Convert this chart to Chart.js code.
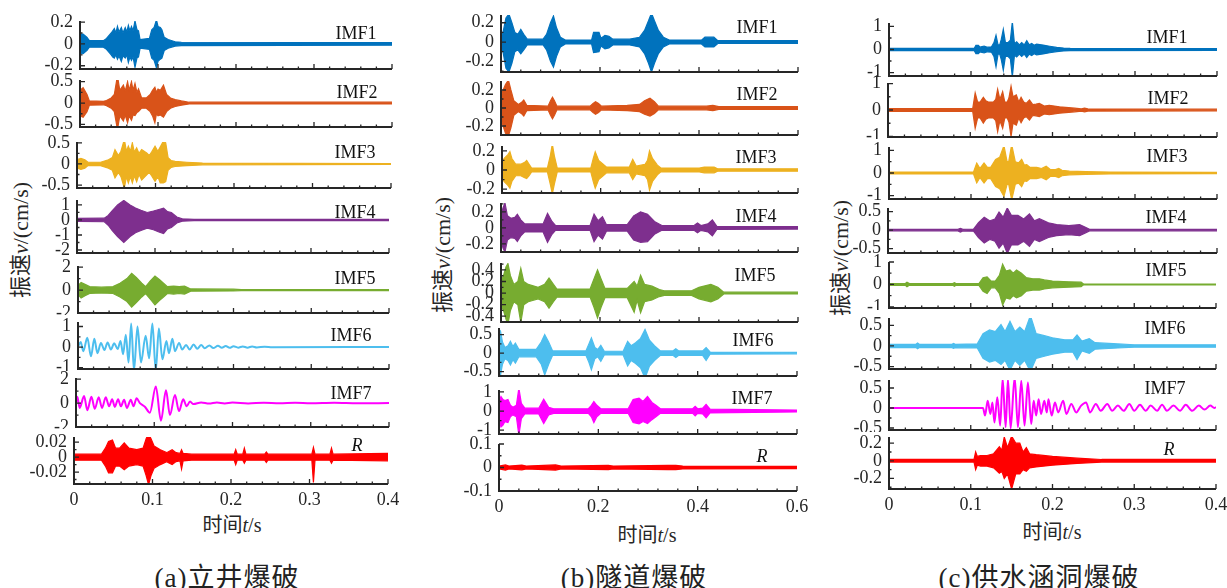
<!DOCTYPE html>
<html>
<head>
<meta charset="utf-8">
<script src="https://cdn.jsdelivr.net/npm/chart.js@4/dist/chart.umd.min.js"></script>
<style>
  body { margin: 0; width: 1227px; height: 588px; position: relative; overflow: hidden; background: #fff;
         font-family: "Liberation Serif", "Noto Sans CJK SC", serif; color: #262626; }
  canvas { position: absolute; }
  .lbl { position: absolute; transform: translate(-50%, -50%); white-space: nowrap; }
  .imf { font-size: 18px; color: #111; }
  .xt { font-size: 20px; }
  .yt { font-size: 22px; transform: translate(-50%, -50%) rotate(-90deg); }
  .cap { font-size: 27px; letter-spacing: 1px; color: #222; }
</style>
</head>
<body>
<div class="lbl yt" style="left:18px;top:240px">振速<i>v</i>/(cm/s)</div>
<div class="lbl yt" style="left:440px;top:255px">振速<i>v</i>/(cm/s)</div>
<div class="lbl yt" style="left:838px;top:258px">振速<i>v</i>/(cm/s)</div>
<div class="lbl xt" style="left:232px;top:523px">时间<i>t</i>/s</div>
<div class="lbl xt" style="left:647px;top:533px">时间<i>t</i>/s</div>
<div class="lbl xt" style="left:1052px;top:530px">时间<i>t</i>/s</div>
<div class="lbl cap" style="left:227px;top:575px">(a)立井爆破</div>
<div class="lbl cap" style="left:634px;top:575px">(b)隧道爆破</div>
<div class="lbl cap" style="left:1039px;top:575px">(c)供水涵洞爆破</div>
<script>
// ---- (a) 立井爆破 : envelopes (time s, upper, lower) ----
const tA1 = [0, 0.004, 0.009, 0.012, 0.03, 0.034, 0.04, 0.042, 0.044, 0.046, 0.048, 0.05, 0.053, 0.055, 0.058, 0.06, 0.062, 0.064, 0.066, 0.068, 0.0705, 0.073, 0.075, 0.077, 0.089, 0.092, 0.095, 0.098, 0.1, 0.103, 0.105, 0.108, 0.113, 0.122, 0.13, 0.4];
const hiA1 = [0.09, 0.09, 0.06, 0.03, 0.03, 0.05, 0.1, 0.12, 0.14, 0.1, 0.16, 0.11, 0.15, 0.1, 0.15, 0.11, 0.17, 0.12, 0.16, 0.12, 0.21, 0.13, 0.12, 0.04, 0.05, 0.13, 0.15, 0.22, 0.16, 0.15, 0.13, 0.06, 0.04, 0.02, 0.015, 0.012];
const loA1 = [-0.09, -0.09, -0.06, -0.03, -0.03, -0.05, -0.1, -0.12, -0.13, -0.1, -0.14, -0.11, -0.16, -0.11, -0.13, -0.1, -0.17, -0.12, -0.15, -0.12, -0.215, -0.13, -0.12, -0.04, -0.05, -0.13, -0.15, -0.22, -0.16, -0.14, -0.13, -0.06, -0.04, -0.02, -0.015, -0.012];

const tA2 = [0, 0.004, 0.009, 0.012, 0.03, 0.034, 0.04, 0.044, 0.048, 0.051, 0.0556, 0.058, 0.061, 0.063, 0.066, 0.068, 0.0705, 0.073, 0.075, 0.079, 0.085, 0.09, 0.093, 0.096, 0.098, 0.1, 0.103, 0.107, 0.111, 0.116, 0.122, 0.13, 0.14, 0.4];
const hiA2 = [0.3, 0.36, 0.2, 0.05, 0.04, 0.06, 0.12, 0.2, 0.64, 0.3, 0.42, 0.28, 0.5, 0.3, 0.5, 0.3, 0.46, 0.25, 0.33, 0.12, 0.12, 0.2, 0.3, 0.37, 0.25, 0.33, 0.3, 0.42, 0.2, 0.12, 0.08, 0.05, 0.02, 0.02];
const loA2 = [-0.3, -0.33, -0.2, -0.05, -0.04, -0.06, -0.12, -0.2, -0.62, -0.3, -0.42, -0.28, -0.46, -0.3, -0.4, -0.28, -0.29, -0.22, -0.2, -0.12, -0.12, -0.2, -0.3, -0.46, -0.25, -0.3, -0.28, -0.33, -0.2, -0.12, -0.08, -0.05, -0.02, -0.02];

const tA3 = [0, 0.005, 0.01, 0.014, 0.03, 0.04, 0.045, 0.0484, 0.0527, 0.056, 0.0603, 0.063, 0.0654, 0.068, 0.0705, 0.073, 0.076, 0.079, 0.0824, 0.0888, 0.092, 0.095, 0.0994, 0.103, 0.106, 0.11, 0.113, 0.116, 0.12, 0.125, 0.14, 0.16, 0.4];
const hiA3 = [0.1, 0.13, 0.1, 0.04, 0.04, 0.1, 0.15, 0.34, 0.2, 0.3, 0.58, 0.3, 0.42, 0.3, 0.5, 0.28, 0.38, 0.25, 0.34, 0.26, 0.2, 0.28, 0.42, 0.3, 0.4, 0.54, 0.5, 0.15, 0.08, 0.06, 0.04, 0.02, 0.01];
const loA3 = [-0.1, -0.13, -0.1, -0.04, -0.04, -0.1, -0.15, -0.33, -0.2, -0.3, -0.57, -0.3, -0.45, -0.3, -0.45, -0.28, -0.42, -0.25, -0.38, -0.26, -0.2, -0.28, -0.41, -0.3, -0.45, -0.45, -0.42, -0.15, -0.08, -0.06, -0.04, -0.02, -0.01];

const tA4 = [0, 0.035, 0.04, 0.045, 0.052, 0.06, 0.068, 0.075, 0.082, 0.09, 0.098, 0.105, 0.111, 0.116, 0.121, 0.128, 0.135, 0.15, 0.4];
const hiA4 = [0.1, 0.12, 0.3, 0.6, 1.0, 1.3, 1.0, 0.8, 0.65, 0.5, 0.6, 0.7, 0.78, 0.55, 0.5, 0.2, 0.08, 0.04, 0.04];
const loA4 = [-0.1, -0.12, -0.35, -0.7, -1.1, -1.5, -1.1, -0.85, -0.7, -0.55, -0.65, -0.8, -0.9, -0.6, -0.5, -0.2, -0.08, -0.04, -0.04];

const tA5 = [0, 0.004, 0.009, 0.015, 0.03, 0.045, 0.054, 0.063, 0.069, 0.075, 0.082, 0.087, 0.093, 0.099, 0.105, 0.11, 0.115, 0.123, 0.13, 0.137, 0.145, 0.2, 0.21, 0.4];
const hiA5 = [0.4, 0.66, 0.5, 0.3, 0.25, 0.3, 0.6, 1.0, 1.46, 1.1, 0.6, 0.3, 0.8, 1.23, 0.9, 0.6, 0.3, 0.35, 0.3, 0.35, 0.1, 0.08, 0.04, 0.04];
const loA5 = [-0.4, -0.69, -0.5, -0.3, -0.25, -0.3, -0.6, -1.0, -1.49, -1.1, -0.6, -0.3, -0.8, -1.29, -0.9, -0.6, -0.3, -0.35, -0.3, -0.35, -0.1, -0.08, -0.04, -0.04];

// IMF6, IMF7: visible waves (peaks and troughs)
const tA6 = [0, 0.0034, 0.0068, 0.012, 0.0167, 0.021, 0.025, 0.0295, 0.034, 0.038, 0.0423, 0.0466, 0.051, 0.0547, 0.058, 0.0615, 0.065, 0.0684, 0.072, 0.0765, 0.081, 0.087, 0.0915, 0.0957, 0.1, 0.104, 0.1086, 0.1137, 0.117, 0.1214, 0.1248, 0.13, 0.134, 0.139, 0.1436, 0.1487, 0.1534, 0.1585, 0.163, 0.169, 0.174, 0.18, 0.185, 0.19, 0.195, 0.2, 0.206, 0.212, 0.218, 0.224, 0.23, 0.24, 0.25, 0.4];
const vA6 = [0, 0.25, -0.2, 0.45, -0.45, 0.4, -0.3, 0.2, -0.15, 0.22, -0.12, 0.18, -0.1, 0.3, -0.35, 0.6, -0.75, 1.15, -1.15, 1.0, -0.75, 0.55, -0.55, 1.15, -1.15, 0.9, -0.6, 0.3, -0.3, 0.4, -0.2, 0.2, -0.12, 0.1, -0.12, 0.12, -0.08, 0.1, -0.06, 0.08, -0.05, 0.06, -0.04, 0.05, -0.04, 0.04, -0.03, 0.03, -0.03, 0.03, -0.02, 0.02, -0.01, 0];

const tA7 = [0, 0.0017, 0.0047, 0.0103, 0.0145, 0.0197, 0.024, 0.029, 0.0333, 0.038, 0.0423, 0.0462, 0.0496, 0.0538, 0.0573, 0.0615, 0.065, 0.07, 0.0735, 0.0774, 0.0816, 0.088, 0.0944, 0.102, 0.1086, 0.115, 0.12, 0.1265, 0.1316, 0.137, 0.1414, 0.1457, 0.15, 0.16, 0.17, 0.18, 0.19, 0.2, 0.22, 0.24, 0.26, 0.28, 0.3, 0.33, 0.36, 0.4];
const vA7 = [0, 0.53, -0.4, 0.59, -0.59, 0.53, -0.48, 0.48, -0.4, 0.48, -0.27, 0.32, -0.32, 0.32, -0.27, 0.27, -0.4, 0.27, -0.27, 0.4, 0, -0.3, -0.8, 1.39, -1.47, 1.07, -1.0, 0.67, -0.67, 0.32, -0.27, 0.13, -0.08, 0.06, -0.04, 0.05, -0.03, 0.04, -0.03, 0.03, -0.02, 0.03, -0.02, 0.02, -0.02, 0];

const tAR = [0, 0.035, 0.04, 0.044, 0.049, 0.053, 0.058, 0.064, 0.07, 0.08, 0.088, 0.092, 0.095, 0.098, 0.102, 0.11, 0.118, 0.125, 0.13, 0.135, 0.137, 0.139, 0.15, 0.204, 0.206, 0.208, 0.215, 0.217, 0.219, 0.243, 0.245, 0.247, 0.303, 0.305, 0.307, 0.326, 0.328, 0.33, 0.4];
const hiAR = [0.004, 0.004, 0.012, 0.021, 0.023, 0.012, 0.012, 0.019, 0.012, 0.01, 0.012, 0.025, 0.031, 0.025, 0.015, 0.01, 0.006, 0.01, 0.006, 0.005, 0.01, 0.005, 0.004, 0.004, 0.01, 0.004, 0.004, 0.012, 0.004, 0.004, 0.007, 0.004, 0.004, 0.013, 0.004, 0.004, 0.012, 0.004, 0.005];
const loAR = [-0.004, -0.004, -0.012, -0.021, -0.021, -0.012, -0.012, -0.017, -0.012, -0.01, -0.012, -0.025, -0.037, -0.025, -0.015, -0.01, -0.006, -0.01, -0.006, -0.005, -0.016, -0.005, -0.004, -0.004, -0.01, -0.004, -0.004, -0.008, -0.004, -0.004, -0.007, -0.004, -0.004, -0.034, -0.004, -0.004, -0.008, -0.004, -0.005];

// ---- (b) 隧道爆破 ----
const tB1 = [0, 0.004, 0.01, 0.016, 0.022, 0.028, 0.034, 0.04, 0.046, 0.053, 0.085, 0.092, 0.1, 0.106, 0.112, 0.12, 0.13, 0.183, 0.187, 0.198, 0.202, 0.21, 0.218, 0.226, 0.26, 0.28, 0.29, 0.298, 0.304, 0.31, 0.318, 0.328, 0.34, 0.405, 0.412, 0.43, 0.438, 0.6];
const hiB1 = [0.05, 0.1, 0.25, 0.29, 0.2, 0.1, 0.08, 0.13, 0.08, 0.03, 0.03, 0.08, 0.2, 0.27, 0.15, 0.05, 0.02, 0.02, 0.1, 0.1, 0.04, 0.07, 0.06, 0.03, 0.03, 0.05, 0.12, 0.22, 0.3, 0.22, 0.12, 0.05, 0.02, 0.02, 0.05, 0.05, 0.015, 0.015];
const loB1 = [-0.05, -0.1, -0.27, -0.31, -0.22, -0.1, -0.08, -0.12, -0.08, -0.03, -0.03, -0.08, -0.2, -0.26, -0.15, -0.05, -0.02, -0.02, -0.11, -0.1, -0.04, -0.07, -0.06, -0.03, -0.03, -0.05, -0.12, -0.22, -0.31, -0.22, -0.12, -0.05, -0.02, -0.02, -0.05, -0.05, -0.015, -0.015];

const tB2 = [0, 0.003, 0.009, 0.015, 0.02, 0.026, 0.035, 0.041, 0.046, 0.052, 0.095, 0.1, 0.104, 0.108, 0.113, 0.18, 0.186, 0.191, 0.197, 0.203, 0.255, 0.28, 0.29, 0.301, 0.31, 0.318, 0.415, 0.428, 0.44, 0.6];
const hiB2 = [0.1, 0.18, 0.26, 0.31, 0.2, 0.08, 0.04, 0.06, 0.09, 0.03, 0.02, 0.08, 0.12, 0.08, 0.02, 0.02, 0.05, 0.07, 0.05, 0.02, 0.03, 0.04, 0.08, 0.11, 0.07, 0.02, 0.02, 0.03, 0.015, 0.015];
const loB2 = [-0.1, -0.18, -0.28, -0.31, -0.22, -0.08, -0.04, -0.06, -0.09, -0.03, -0.02, -0.08, -0.12, -0.08, -0.02, -0.02, -0.05, -0.07, -0.05, -0.02, -0.03, -0.04, -0.07, -0.09, -0.06, -0.02, -0.02, -0.03, -0.015, -0.015];

const tB3 = [0, 0.004, 0.012, 0.016, 0.02, 0.028, 0.038, 0.046, 0.05, 0.055, 0.06, 0.092, 0.098, 0.102, 0.106, 0.112, 0.18, 0.185, 0.189, 0.196, 0.205, 0.212, 0.258, 0.265, 0.272, 0.29, 0.295, 0.299, 0.305, 0.315, 0.322, 0.4, 0.41, 0.43, 0.437, 0.6];
const hiB3 = [0.05, 0.12, 0.16, 0.19, 0.12, 0.06, 0.06, 0.08, 0.1, 0.06, 0.02, 0.02, 0.15, 0.27, 0.15, 0.02, 0.02, 0.12, 0.19, 0.1, 0.06, 0.03, 0.03, 0.11, 0.04, 0.06, 0.1, 0.2, 0.12, 0.05, 0.02, 0.02, 0.03, 0.03, 0.012, 0.012];
const loB3 = [-0.05, -0.12, -0.16, -0.19, -0.12, -0.06, -0.06, -0.08, -0.09, -0.06, -0.02, -0.02, -0.15, -0.25, -0.15, -0.02, -0.02, -0.12, -0.19, -0.1, -0.06, -0.03, -0.03, -0.1, -0.04, -0.06, -0.1, -0.21, -0.12, -0.05, -0.02, -0.02, -0.03, -0.03, -0.012, -0.012];

const tB4 = [0, 0.004, 0.008, 0.013, 0.02, 0.028, 0.033, 0.04, 0.048, 0.085, 0.094, 0.103, 0.11, 0.18, 0.188, 0.196, 0.205, 0.213, 0.255, 0.268, 0.282, 0.296, 0.31, 0.325, 0.39, 0.397, 0.404, 0.418, 0.427, 0.436, 0.6];
const hiB4 = [0.15, 0.25, 0.31, 0.15, 0.12, 0.13, 0.17, 0.1, 0.05, 0.05, 0.18, 0.08, 0.03, 0.03, 0.17, 0.09, 0.14, 0.04, 0.04, 0.15, 0.2, 0.17, 0.08, 0.03, 0.03, 0.06, 0.03, 0.05, 0.1, 0.02, 0.015];
const loB4 = [-0.15, -0.25, -0.3, -0.15, -0.12, -0.13, -0.17, -0.1, -0.05, -0.05, -0.18, -0.08, -0.03, -0.03, -0.17, -0.09, -0.14, -0.04, -0.04, -0.15, -0.18, -0.17, -0.08, -0.03, -0.03, -0.06, -0.03, -0.05, -0.1, -0.02, -0.015];

const tB5 = [0, 0.005, 0.01, 0.014, 0.019, 0.026, 0.034, 0.04, 0.046, 0.055, 0.075, 0.088, 0.097, 0.106, 0.113, 0.18, 0.188, 0.195, 0.202, 0.21, 0.255, 0.269, 0.275, 0.282, 0.29, 0.305, 0.32, 0.33, 0.385, 0.4, 0.424, 0.438, 0.45, 0.6];
const hiB5 = [0.2, 0.3, 0.45, 0.51, 0.3, 0.15, 0.2, 0.43, 0.2, 0.15, 0.1, 0.15, 0.26, 0.15, 0.07, 0.07, 0.25, 0.4, 0.25, 0.08, 0.08, 0.2, 0.12, 0.31, 0.15, 0.12, 0.06, 0.04, 0.04, 0.1, 0.15, 0.1, 0.015, 0.015];
const loB5 = [-0.2, -0.3, -0.45, -0.54, -0.3, -0.15, -0.2, -0.51, -0.2, -0.15, -0.1, -0.15, -0.26, -0.15, -0.07, -0.07, -0.25, -0.43, -0.25, -0.08, -0.08, -0.33, -0.12, -0.34, -0.15, -0.12, -0.06, -0.04, -0.04, -0.1, -0.15, -0.1, -0.015, -0.015];

const tB6 = [0, 0.003, 0.007, 0.012, 0.018, 0.023, 0.028, 0.033, 0.04, 0.075, 0.085, 0.092, 0.1, 0.108, 0.175, 0.181, 0.186, 0.193, 0.199, 0.205, 0.212, 0.25, 0.259, 0.266, 0.275, 0.285, 0.294, 0.303, 0.313, 0.325, 0.35, 0.356, 0.362, 0.41, 0.417, 0.425, 0.6];
const hiB6 = [0.64, 0.6, 0.3, 0.15, 0.2, 0.32, 0.18, 0.27, 0.1, 0.1, 0.3, 0.5, 0.3, 0.06, 0.06, 0.25, 0.41, 0.15, 0.1, 0.21, 0.05, 0.05, 0.32, 0.2, 0.28, 0.4, 0.64, 0.35, 0.2, 0.06, 0.06, 0.12, 0.06, 0.06, 0.15, 0.03, 0.02];
const loB6 = [-0.68, -0.6, -0.3, -0.15, -0.2, -0.32, -0.18, -0.27, -0.1, -0.1, -0.3, -0.59, -0.3, -0.06, -0.06, -0.25, -0.45, -0.15, -0.1, -0.22, -0.05, -0.05, -0.35, -0.2, -0.28, -0.4, -0.68, -0.35, -0.2, -0.06, -0.06, -0.12, -0.06, -0.06, -0.2, -0.03, -0.02];

const tB7 = [0, 0.004, 0.008, 0.012, 0.018, 0.023, 0.028, 0.035, 0.04, 0.045, 0.052, 0.08, 0.09, 0.1, 0.11, 0.18, 0.186, 0.191, 0.197, 0.205, 0.26, 0.27, 0.282, 0.29, 0.299, 0.308, 0.316, 0.325, 0.39, 0.395, 0.4, 0.41, 0.417, 0.425, 0.6];
const hiB7 = [0.5, 0.76, 0.6, 0.55, 0.6, 0.3, 0.2, 0.3, 1.2, 0.4, 0.15, 0.15, 0.62, 0.2, 0.12, 0.12, 0.3, 0.5, 0.3, 0.12, 0.12, 0.6, 0.67, 0.5, 0.76, 0.45, 0.3, 0.12, 0.12, 0.25, 0.12, 0.15, 0.35, 0.1, 0.05];
const loB7 = [-0.5, -0.83, -0.74, -0.55, -0.6, -0.3, -0.2, -0.3, -1.27, -0.4, -0.15, -0.15, -0.65, -0.2, -0.12, -0.12, -0.3, -0.6, -0.3, -0.12, -0.12, -0.6, -0.67, -0.55, -0.65, -0.45, -0.3, -0.12, -0.12, -0.25, -0.12, -0.15, -0.35, -0.1, -0.05];

const tBR = [0, 0.013, 0.02, 0.046, 0.055, 0.114, 0.125, 0.22, 0.23, 0.34, 0.356, 0.37, 0.6];
const hiBR = [0.006, 0.011, 0.006, 0.01, 0.006, 0.011, 0.006, 0.009, 0.006, 0.009, 0.009, 0.006, 0.005];
const loBR = [-0.006, -0.011, -0.006, -0.01, -0.006, -0.011, -0.006, -0.009, -0.006, -0.009, -0.009, -0.006, -0.005];

// ---- (c) 供水涵洞爆破 ----
const tC1 = [0, 0.104, 0.106, 0.109, 0.111, 0.116, 0.12, 0.125, 0.128, 0.1305, 0.133, 0.135, 0.137, 0.1394, 0.142, 0.145, 0.148, 0.1504, 0.153, 0.1557, 0.159, 0.1618, 0.165, 0.168, 0.171, 0.174, 0.177, 0.18, 0.188, 0.196, 0.2045, 0.213, 0.221, 0.4];
const hiC1 = [0.05, 0.05, 0.18, 0.18, 0.1, 0.15, 0.1, 0.12, 0.3, 0.62, 0.2, 0.2, 0.45, 0.87, 0.3, 0.3, 0.4, 1.2, 0.25, 0.33, 0.2, 0.3, 0.2, 0.38, 0.2, 0.26, 0.18, 0.23, 0.19, 0.14, 0.09, 0.06, 0.05, 0.04];
const loC1 = [-0.05, -0.05, -0.18, -0.18, -0.1, -0.15, -0.1, -0.12, -0.3, -0.75, -0.2, -0.2, -0.45, -0.9, -0.3, -0.3, -0.4, -1.19, -0.25, -0.32, -0.2, -0.3, -0.2, -0.35, -0.2, -0.26, -0.18, -0.23, -0.19, -0.14, -0.09, -0.06, -0.05, -0.04];

const tC2 = [0, 0.103, 0.106, 0.109, 0.112, 0.1159, 0.119, 0.122, 0.128, 0.131, 0.1333, 0.136, 0.1394, 0.142, 0.145, 0.147, 0.1496, 0.152, 0.156, 0.159, 0.1618, 0.165, 0.168, 0.172, 0.176, 0.18, 0.184, 0.19, 0.196, 0.2085, 0.227, 0.235, 0.239, 0.243, 0.4];
const hiC2 = [0.05, 0.05, 0.65, 0.3, 0.3, 0.48, 0.35, 0.3, 0.3, 0.4, 0.78, 0.4, 0.69, 0.3, 0.3, 0.45, 0.9, 0.5, 0.57, 0.3, 0.48, 0.3, 0.25, 0.38, 0.2, 0.22, 0.25, 0.15, 0.18, 0.12, 0.07, 0.04, 0.07, 0.04, 0.03];
const loC2 = [-0.05, -0.05, -0.69, -0.3, -0.3, -0.5, -0.35, -0.3, -0.3, -0.4, -0.82, -0.4, -0.69, -0.3, -0.3, -0.45, -1.0, -0.5, -0.57, -0.3, -0.48, -0.3, -0.25, -0.38, -0.2, -0.22, -0.25, -0.15, -0.18, -0.12, -0.07, -0.04, -0.07, -0.04, -0.03];

const tC3 = [0, 0.103, 0.107, 0.111, 0.1159, 0.12, 0.124, 0.13, 0.135, 0.1402, 0.144, 0.146, 0.1496, 0.154, 0.158, 0.1618, 0.165, 0.168, 0.172, 0.18, 0.186, 0.1917, 0.197, 0.203, 0.207, 0.211, 0.22, 0.24, 0.27, 0.4];
const hiC3 = [0.04, 0.04, 0.44, 0.2, 0.44, 0.25, 0.25, 0.6, 0.7, 1.21, 0.5, 0.5, 1.26, 0.5, 0.45, 0.6, 0.35, 0.37, 0.25, 0.25, 0.2, 0.3, 0.15, 0.15, 0.2, 0.12, 0.08, 0.06, 0.04, 0.03];
const loC3 = [-0.04, -0.04, -0.44, -0.2, -0.44, -0.25, -0.25, -0.6, -0.7, -1.04, -0.5, -0.5, -1.19, -0.5, -0.45, -0.6, -0.35, -0.37, -0.25, -0.25, -0.2, -0.3, -0.15, -0.15, -0.2, -0.12, -0.08, -0.06, -0.04, -0.03];

const tC4 = [0, 0.085, 0.088, 0.091, 0.104, 0.11, 0.117, 0.124, 0.13, 0.135, 0.14, 0.145, 0.15, 0.158, 0.165, 0.172, 0.178, 0.184, 0.195, 0.205, 0.22, 0.233, 0.24, 0.245, 0.4];
const hiC4 = [0.02, 0.02, 0.05, 0.02, 0.03, 0.2, 0.35, 0.25, 0.3, 0.49, 0.35, 0.6, 0.4, 0.4, 0.3, 0.44, 0.25, 0.31, 0.2, 0.15, 0.12, 0.15, 0.08, 0.02, 0.02];
const loC4 = [-0.02, -0.02, -0.05, -0.02, -0.03, -0.2, -0.35, -0.25, -0.3, -0.49, -0.35, -0.63, -0.4, -0.4, -0.3, -0.44, -0.25, -0.31, -0.2, -0.15, -0.12, -0.15, -0.08, -0.02, -0.02];

const tC5 = [0, 0.02, 0.022, 0.025, 0.078, 0.08, 0.082, 0.11, 0.115, 0.12, 0.125, 0.13, 0.135, 0.139, 0.143, 0.148, 0.152, 0.156, 0.162, 0.168, 0.176, 0.184, 0.19, 0.2, 0.22, 0.235, 0.238, 0.4];
const hiC5 = [0.04, 0.04, 0.1, 0.04, 0.04, 0.08, 0.04, 0.04, 0.3, 0.34, 0.15, 0.15, 0.4, 0.9, 0.6, 0.65, 0.5, 0.64, 0.5, 0.3, 0.25, 0.25, 0.2, 0.15, 0.12, 0.1, 0.02, 0.02];
const loC5 = [-0.04, -0.04, -0.1, -0.04, -0.04, -0.08, -0.04, -0.04, -0.3, -0.4, -0.15, -0.15, -0.4, -0.92, -0.6, -0.65, -0.5, -0.6, -0.5, -0.3, -0.25, -0.25, -0.2, -0.15, -0.12, -0.1, -0.02, -0.02];

const tC6 = [0, 0.033, 0.035, 0.037, 0.077, 0.079, 0.081, 0.108, 0.115, 0.123, 0.13, 0.137, 0.142, 0.148, 0.154, 0.16, 0.166, 0.173, 0.18, 0.19, 0.2, 0.215, 0.225, 0.23, 0.236, 0.245, 0.252, 0.28, 0.3, 0.4];
const hiC6 = [0.04, 0.04, 0.07, 0.04, 0.04, 0.06, 0.04, 0.05, 0.3, 0.39, 0.35, 0.52, 0.35, 0.6, 0.35, 0.46, 0.35, 0.74, 0.3, 0.25, 0.2, 0.15, 0.15, 0.27, 0.12, 0.18, 0.08, 0.05, 0.03, 0.03];
const loC6 = [-0.04, -0.04, -0.07, -0.04, -0.04, -0.06, -0.04, -0.05, -0.3, -0.39, -0.35, -0.45, -0.35, -0.59, -0.35, -0.47, -0.35, -0.62, -0.3, -0.25, -0.2, -0.15, -0.15, -0.33, -0.12, -0.18, -0.08, -0.05, -0.03, -0.03];

const tC7 = [0, 0.115, 0.1175, 0.1207, 0.124, 0.1265, 0.129, 0.1325, 0.136, 0.139, 0.1427, 0.1455, 0.1488, 0.1537, 0.1577, 0.1618, 0.1658, 0.1699, 0.174, 0.177, 0.18, 0.183, 0.186, 0.19, 0.193, 0.195, 0.199, 0.203, 0.207, 0.213, 0.217, 0.223, 0.229, 0.235, 0.241, 0.246, 0.253, 0.259, 0.267, 0.273, 0.28, 0.287, 0.294, 0.3, 0.307, 0.314, 0.32, 0.328, 0.334, 0.34, 0.348, 0.356, 0.363, 0.371, 0.379, 0.386, 0.393, 0.398, 0.4];
const vC7 = [0, 0, -0.19, 0.18, -0.15, 0.14, -0.36, 0.27, -0.44, 0.74, -0.48, 0.73, -0.51, 0.77, -0.48, 0.68, -0.44, 0.64, -0.4, 0.18, -0.19, 0.22, -0.15, 0.18, -0.11, 0.22, -0.19, 0.14, -0.11, 0.18, -0.15, 0.1, -0.11, 0.06, 0.14, -0.11, 0.1, -0.07, 0.1, -0.07, 0.06, -0.07, 0.1, -0.07, 0.08, -0.07, 0.06, -0.07, 0.08, -0.07, 0.06, -0.07, 0.08, -0.07, 0.06, -0.04, 0.06, 0, 0.02];

const tCR = [0, 0.104, 0.106, 0.108, 0.112, 0.12, 0.128, 0.135, 0.138, 0.141, 0.145, 0.15, 0.155, 0.16, 0.164, 0.168, 0.172, 0.18, 0.2, 0.23, 0.26, 0.4];
const hiCR = [0.015, 0.015, 0.1, 0.05, 0.06, 0.06, 0.08, 0.16, 0.12, 0.27, 0.15, 0.28, 0.2, 0.2, 0.1, 0.15, 0.08, 0.07, 0.05, 0.03, 0.015, 0.015];
const loCR = [-0.015, -0.015, -0.1, -0.05, -0.06, -0.06, -0.08, -0.14, -0.12, -0.2, -0.15, -0.32, -0.15, -0.15, -0.1, -0.12, -0.08, -0.07, -0.05, -0.03, -0.015, -0.015];

// ---- tick labels ----
const xTicksA = [0, 0.1, 0.2, 0.3, 0.4];
const xTicksB = [0, 0.2, 0.4, 0.6];
const xTicksC = [0, 0.1, 0.2, 0.3, 0.4];
const yTicksA = [[-0.2, 0, 0.2], [-0.5, 0, 0.5], [-0.5, 0, 0.5], [-2, -1, 0, 1], [-2, 0, 2], [-1, 0, 1], [-2, 0, 2], [-0.02, 0, 0.02]];
const yTicksB = [[-0.2, 0, 0.2], [-0.2, 0, 0.2], [-0.2, 0, 0.2], [-0.2, 0, 0.2], [-0.4, -0.2, 0, 0.2, 0.4], [-0.5, 0, 0.5], [-1, 0, 1], [-0.1, 0, 0.1]];
const yTicksC = [[-1, 0, 1], [-1, 0, 1], [-1, 0, 1], [-0.5, 0, 0.5], [-1, 0, 1], [-0.5, 0, 0.5], [-0.5, 0, 0.5], [-0.2, 0, 0.2]];
const rowNames = ['IMF1', 'IMF2', 'IMF3', 'IMF4', 'IMF5', 'IMF6', 'IMF7', 'R'];

// ---- layout (pixel boxes: left, right, top, bottom) and axis limits ----
const boxA = [[80, 392, 21, 69], [80, 392, 80, 127], [77, 391, 142, 188], [77, 389, 200, 253], [78, 389, 266, 313], [78, 389, 322, 369], [76, 389, 378, 427], [74, 388, 437, 484]];
const boxB = [[501, 798, 15, 72], [501, 798, 81, 135], [502, 798, 146, 193], [501, 798, 203, 252], [501, 798, 263, 322], [499, 797, 328, 376], [499, 797, 390, 434], [499, 797, 444, 491]];
const boxC = [[889, 1217, 23, 76], [888, 1217, 83, 137], [889, 1217, 147, 199], [888, 1217, 208, 253], [889, 1216, 262, 308], [889, 1216, 318, 369], [889, 1216, 380, 430], [889, 1216, 437, 489]];
const yLimA = [[-0.23, 0.21], [-0.56, 0.54], [-0.57, 0.52], [-2.2, 1.33], [-2, 2.1], [-1.07, 1.22], [-2, 2.1], [-0.036, 0.027]];
const yLimB = [[-0.31, 0.28], [-0.3, 0.3], [-0.24, 0.25], [-0.3, 0.31], [-0.5, 0.52], [-0.62, 0.68], [-1.2, 1.1], [-0.1, 0.1]];
const yLimC = [[-1.15, 1.15], [-1.02, 1.02], [-1.15, 1.15], [-0.62, 0.6], [-1.05, 1.0], [-0.56, 0.68], [-0.55, 0.7], [-0.32, 0.27]];
const labA = [[356, 33], [357, 92], [355, 152], [355, 212], [355, 278], [351, 335], [351, 393], [357, 445]];
const labB = [[757, 27], [757, 94], [756, 157], [756, 216], [755, 275], [753, 340], [752, 398], [762, 456]];
const labC = [[1167, 37], [1168, 98], [1167, 156], [1166, 217], [1166, 270], [1165, 328], [1165, 388], [1169, 449]];
const colors = ['#0072BD', '#D95319', '#EDB120', '#7E2F8E', '#77AC30', '#4DBEEE', '#FF00FF', '#FF0000'];

const seriesA = [[tA1, hiA1, loA1], [tA2, hiA2, loA2], [tA3, hiA3, loA3], [tA4, hiA4, loA4], [tA5, hiA5, loA5], [tA6, vA6], [tA7, vA7], [tAR, hiAR, loAR]];
const seriesB = [[tB1, hiB1, loB1], [tB2, hiB2, loB2], [tB3, hiB3, loB3], [tB4, hiB4, loB4], [tB5, hiB5, loB5], [tB6, hiB6, loB6], [tB7, hiB7, loB7], [tBR, hiBR, loBR]];
const seriesC = [[tC1, hiC1, loC1], [tC2, hiC2, loC2], [tC3, hiC3, loC3], [tC4, hiC4, loC4], [tC5, hiC5, loC5], [tC6, hiC6, loC6], [tC7, vC7], [tCR, hiCR, loCR]];

Chart.defaults.font.family = '"Liberation Serif", "Times New Roman", serif';
Chart.defaults.font.size = 18;
Chart.defaults.color = '#262626';

// matlab-like L axes with inward ticks
const matlabAxes = {
    id: 'matlabAxes',
    afterDraw(chart, args, o) {
        const { ctx, chartArea: a } = chart;
        const xs = chart.scales.x, ys = chart.scales.y;
        ctx.save();
        ctx.strokeStyle = '#262626';
        ctx.lineWidth = 1.3;
        ctx.beginPath();
        const n = Math.round(xs.max / o.minorX);
        for (let i = 0; i <= n; i++) {
            const v = i * o.minorX;
            const major = o.xTicks.some(t => Math.abs(t - v) < 1e-9);
            const px = xs.getPixelForValue(v);
            ctx.moveTo(px, a.bottom);
            ctx.lineTo(px, a.bottom - (major ? 5 : 2.5));
        }
        const yt = o.yTicks;
        const step = yt[1] - yt[0];
        const minors = [yt[0] - step / 2, yt[yt.length - 1] + step / 2];
        for (let i = 0; i < yt.length - 1; i++) minors.push((yt[i] + yt[i + 1]) / 2);
        yt.forEach(v => {
            if (v < ys.min || v > ys.max) return;
            const py = ys.getPixelForValue(v);
            ctx.moveTo(a.left, py); ctx.lineTo(a.left + 5, py);
        });
        minors.forEach(v => {
            if (v < ys.min || v > ys.max) return;
            const py = ys.getPixelForValue(v);
            ctx.moveTo(a.left, py); ctx.lineTo(a.left + 2.5, py);
        });
        ctx.stroke();
        ctx.lineWidth = 2;
        ctx.beginPath();
        ctx.moveTo(a.left, a.top);
        ctx.lineTo(a.left, a.bottom);
        ctx.lineTo(a.right, a.bottom);
        ctx.stroke();
        ctx.restore();
    }
};

function pts(t, v) {
    return t.map((x, i) => ({ x: x, y: v[i] }));
}

function makeChart(box, yLim, yTicks, series, color, xTicks, minorX, isBottom) {
    const [left, right, top, bottom] = box;
    const padL = 60, padR = 22, padT = 12, padB = isBottom ? 30 : 2;
    const w = padL + (right - left) + padR;
    const h = padT + (bottom - top) + padB;
    const cv = document.createElement('canvas');
    cv.width = w; cv.height = h;
    cv.style.left = (left - padL) + 'px';
    cv.style.top = (top - padT) + 'px';
    cv.style.width = w + 'px';
    cv.style.height = h + 'px';
    document.body.appendChild(cv);

    let datasets;
    if (series.length === 3) {
        datasets = [
            { data: pts(series[0], series[1]), borderColor: color, borderWidth: 1.2, pointRadius: 0, fill: false },
            { data: pts(series[0], series[2]), borderColor: color, backgroundColor: color, borderWidth: 1.2, pointRadius: 0, fill: '-1' }
        ];
    } else {
        datasets = [
            { data: pts(series[0], series[1]), borderColor: color, borderWidth: 2, pointRadius: 0, fill: false, cubicInterpolationMode: 'monotone' }
        ];
    }

    new Chart(cv, {
        type: 'line',
        data: { datasets: datasets },
        options: {
            responsive: false,
            maintainAspectRatio: false,
            animation: false,
            parsing: false,
            layout: { autoPadding: false, padding: { left: 0, right: padR, top: padT, bottom: 0 } },
            plugins: {
                legend: { display: false },
                tooltip: { enabled: false },
                matlabAxes: { minorX: minorX, xTicks: xTicks, yTicks: yTicks }
            },
            scales: {
                x: {
                    type: 'linear',
                    min: 0,
                    max: xTicks[xTicks.length - 1],
                    afterBuildTicks: s => { s.ticks = xTicks.map(v => ({ value: v })); },
                    // fixed box, no label overflow padding
                    afterFit: s => { s.height = padB; s.paddingLeft = 0; s.paddingRight = 0; },
                    grid: { display: false, drawTicks: false, tickLength: 0 },
                    border: { display: false },
                    ticks: { display: isBottom, padding: 5, maxRotation: 0, autoSkip: false, callback: v => String(v) }
                },
                y: {
                    min: yLim[0],
                    max: yLim[1],
                    afterBuildTicks: s => { s.ticks = yTicks.map(v => ({ value: v })); },
                    afterFit: s => { s.width = padL; s.paddingTop = 0; s.paddingBottom = 0; },
                    grid: { display: false, drawTicks: false, tickLength: 0 },
                    border: { display: false },
                    ticks: { padding: 7, autoSkip: false, callback: v => String(v) }
                }
            }
        },
        plugins: [matlabAxes]
    });
}

function addLabel(text, pos, italic) {
    const d = document.createElement('div');
    d.className = 'lbl imf';
    d.style.left = pos[0] + 'px';
    d.style.top = pos[1] + 'px';
    if (italic) d.style.fontStyle = 'italic';
    d.textContent = text;
    document.body.appendChild(d);
}

function buildPanel(boxes, yLims, yTicks, series, labels, xTicks, minorX) {
    for (let i = 0; i < boxes.length; i++) {
        makeChart(boxes[i], yLims[i], yTicks[i], series[i], colors[i], xTicks, minorX, i === boxes.length - 1);
        addLabel(rowNames[i], labels[i], rowNames[i] === 'R');
    }
}

window.addEventListener('DOMContentLoaded', () => {
    buildPanel(boxA, yLimA, yTicksA, seriesA, labA, xTicksA, 0.02);
    buildPanel(boxB, yLimB, yTicksB, seriesB, labB, xTicksB, 0.04);
    buildPanel(boxC, yLimC, yTicksC, seriesC, labC, xTicksC, 0.02);
});
</script>
</body>
</html>
